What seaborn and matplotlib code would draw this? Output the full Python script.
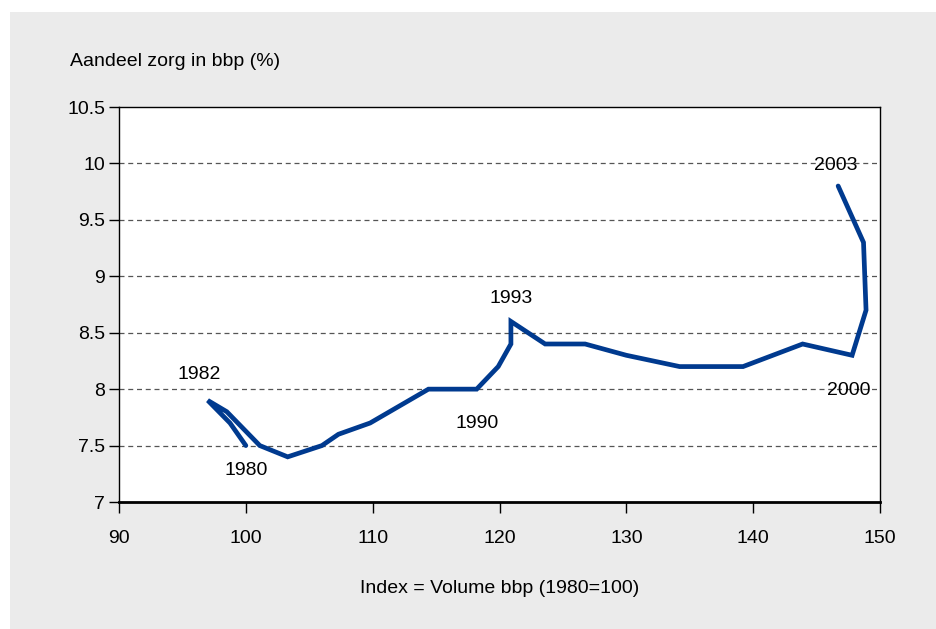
import matplotlib
matplotlib.use("Agg")
import matplotlib.pyplot as plt
import seaborn as sns
import pandas as pd
from matplotlib.patches import Rectangle

# Health-care share of GDP against GDP volume index, 1980-2003
years = list(range(1980, 2004))
gdp_index = [100.0, 98.75, 97.0, 98.5, 101.1, 103.3, 106.0, 107.3, 109.8, 114.4,
             118.2, 119.9, 120.9, 120.9, 123.6, 126.75, 130.0, 134.2, 139.2, 143.9,
             147.8, 148.9, 148.7, 146.7]
care_share = [7.5, 7.7, 7.9, 7.8, 7.5, 7.4, 7.5, 7.6, 7.7, 8.0,
              8.0, 8.2, 8.4, 8.6, 8.4, 8.4, 8.3, 8.2, 8.2, 8.4,
              8.3, 8.7, 9.3, 9.8]

x_ticks = [90, 100, 110, 120, 130, 140, 150]
y_ticks = [7, 7.5, 8, 8.5, 9, 9.5, 10, 10.5]
y_tick_labels = ["7", "7.5", "8", "8.5", "9", "9.5", "10", "10.5"]

# year labels with their text positions (data units)
label_years = ["1982", "1980", "1990", "1993", "2003", "2000"]
label_x = [96.3, 100.0, 118.2, 120.9, 146.5, 147.5]
label_y = [8.13, 7.28, 7.7, 8.8, 9.98, 7.99]

df = pd.DataFrame({"jaar": years, "index": gdp_index, "aandeel": care_share})

sns.set_theme(style="white")
plt.rcParams["font.family"] = ["Liberation Sans", "DejaVu Sans"]
plt.rcParams["text.color"] = "black"
plt.rcParams["xtick.color"] = "black"
plt.rcParams["ytick.color"] = "black"
plt.rcParams["axes.labelcolor"] = "black"
fs = 14

W, H = 937, 629
fig = plt.figure(figsize=(W / 100, H / 100), dpi=100, facecolor="white")
fig.patches.append(Rectangle((10 / W, 0), (W - 10) / W, (H - 12) / H,
                             transform=fig.transFigure, facecolor="#ebebeb",
                             edgecolor="none", zorder=-10))

ax = fig.add_axes([119 / W, 1 - 502 / H, (880 - 119) / W, (502 - 107) / H])
ax.set_facecolor("white")

sns.lineplot(data=df, x="index", y="aandeel", sort=False, estimator=None,
             color="#003a8f", linewidth=3.4, ax=ax, solid_joinstyle="miter")

ax.set_xlim(90, 150)
ax.set_ylim(7, 10.5)
ax.set_xticks(x_ticks)
ax.set_xticklabels([str(t) for t in x_ticks])
ax.set_yticks(y_ticks)
ax.set_yticklabels(y_tick_labels)

for y in y_ticks[1:-1]:
    ax.axhline(y, color="#555555", linestyle=(0, (4, 3)), linewidth=0.9, zorder=0)

for side in ["top", "right", "left"]:
    ax.spines[side].set_color("black")
    ax.spines[side].set_linewidth(1.0)
ax.spines["bottom"].set_color("black")
ax.spines["bottom"].set_linewidth(2.0)

ax.tick_params(axis="x", direction="out", length=8, width=1, color="black",
               labelsize=fs, pad=12, bottom=True)
ax.tick_params(axis="y", direction="out", length=7, width=1, color="black",
               labelsize=fs, pad=3, left=True)

ax.set_xlabel("Index = Volume bbp (1980=100)", fontsize=fs, labelpad=24)
ax.set_ylabel("")
fig.text(70 / W, 1 - 61 / H, "Aandeel zorg in bbp (%)", fontsize=fs,
         ha="left", va="center")

for lbl, lx, ly in zip(label_years, label_x, label_y):
    ax.text(lx, ly, lbl, fontsize=fs, ha="center", va="center")

fig.savefig("out.png", dpi=100, facecolor="white")
